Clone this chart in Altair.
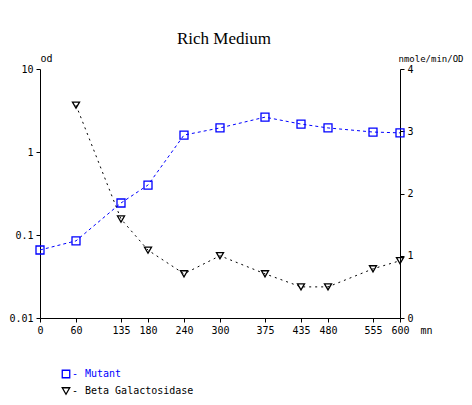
import altair as alt
import pandas as pd

times = [0, 60, 135, 180, 240, 300, 375, 435, 480, 555, 600]
mutant = [0.066, 0.085, 0.243, 0.40, 1.6, 1.95, 2.63, 2.17, 1.95, 1.74, 1.7]
beta_times = [60, 135, 180, 240, 300, 375, 435, 480, 555, 600]
beta = [3.42, 1.59, 1.09, 0.71, 1.0, 0.71, 0.5, 0.5, 0.79, 0.92]
left_ticks = [0.01, 0.1, 1, 10]
right_ticks = [0, 1, 2, 3, 4]
legend_labels = ["Mutant", "Beta Galactosidase"]

BLUE = "#0000ff"
FONT = "DejaVu Sans Mono"
FS = 10

df_m = pd.DataFrame({"t": times, "v": mutant})
df_b = pd.DataFrame({"t": beta_times, "v": beta})

x_enc = alt.X("t:Q", scale=alt.Scale(domain=[0, 600], nice=False),
              axis=alt.Axis(values=times, title="mn", titleAngle=0, titleX=380, titleY=12,
                            titleAlign="left", titleBaseline="middle", titleFontWeight="normal",
                            format="d", labelFlush=False, labelOverlap=False))

y_left = alt.Y("v:Q", scale=alt.Scale(type="log", domain=[0.01, 10], nice=False),
               axis=alt.Axis(orient="left", values=left_ticks, title="od", titleAngle=0,
                             titleX=0, titleY=-11, titleAlign="left", titleBaseline="middle",
                             titleFontWeight="normal",
                             labelExpr="datum.value >= 1 ? format(datum.value, 'd') : datum.value >= 0.1 ? '0.1' : '0.01'"))

y_right = alt.Y("v:Q", scale=alt.Scale(domain=[0, 4], nice=False),
                axis=alt.Axis(orient="right", values=right_ticks, title="nmole/min/OD", titleAngle=0,
                              titleX=-2, titleY=-11, titleAlign="left", titleBaseline="middle",
                              titleFontWeight="normal", titleFontSize=9, format="d"))

m_line = alt.Chart(df_m).mark_line(color=BLUE, strokeWidth=1, strokeDash=[3, 3]).encode(x=x_enc, y=y_left)
m_pts = alt.Chart(df_m).mark_point(shape="square", filled=False, color=BLUE, size=64, strokeWidth=1.3, opacity=1).encode(x=x_enc, y=y_left)
b_line = alt.Chart(df_b).mark_line(color="black", strokeWidth=1, strokeDash=[2, 4]).encode(x=x_enc, y=y_right)
b_pts = alt.Chart(df_b).mark_point(shape="triangle-down", filled=False, color="black", size=50, strokeWidth=1.3, opacity=1).encode(x=x_enc, y=y_right)

left_layer = alt.layer(m_line, m_pts)
right_layer = alt.layer(b_line, b_pts)

leg_rows = [(legend_labels[0], BLUE, "square", 305), (legend_labels[1], "black", "triangle-down", 322)]
legend_layers = []
for lab, col, shp, yy in leg_rows:
    d = pd.DataFrame({"label": [lab]})
    legend_layers.append(alt.Chart(d).mark_point(shape=shp, filled=False, color=col, size=56, strokeWidth=1.3, opacity=1)
                         .encode(x=alt.value(26), y=alt.value(yy)))
    legend_layers.append(alt.Chart(d).mark_text(text="-", color=col, font=FONT, fontSize=FS, align="left", baseline="middle")
                         .encode(x=alt.value(32), y=alt.value(yy)))
    legend_layers.append(alt.Chart(d).mark_text(color=col, font=FONT, fontSize=FS, align="left", baseline="middle")
                         .encode(text="label:N", x=alt.value(45), y=alt.value(yy)))

chart = alt.layer(left_layer, right_layer, *legend_layers).resolve_scale(y="independent").properties(
    width=360, height=249,
    autosize=alt.AutoSizeParams(type="none"),
    padding={"left": 32, "top": 61, "right": 64, "bottom": 79},
    title=alt.TitleParams("Rich Medium", font="Liberation Serif", fontSize=17, fontWeight="normal",
                          anchor="middle", offset=5, color="black", dx=4),
).configure_view(stroke=None).configure_axis(
    grid=False, domainColor="black", domainWidth=1, tickColor="black", tickSize=4, tickWidth=1,
    labelFont=FONT, labelFontSize=FS, labelColor="black", labelPadding=3,
    titleFont=FONT, titleFontSize=FS, titleColor="black",
)

chart.save("out.html", embed_options={"renderer": "svg", "actions": False})
